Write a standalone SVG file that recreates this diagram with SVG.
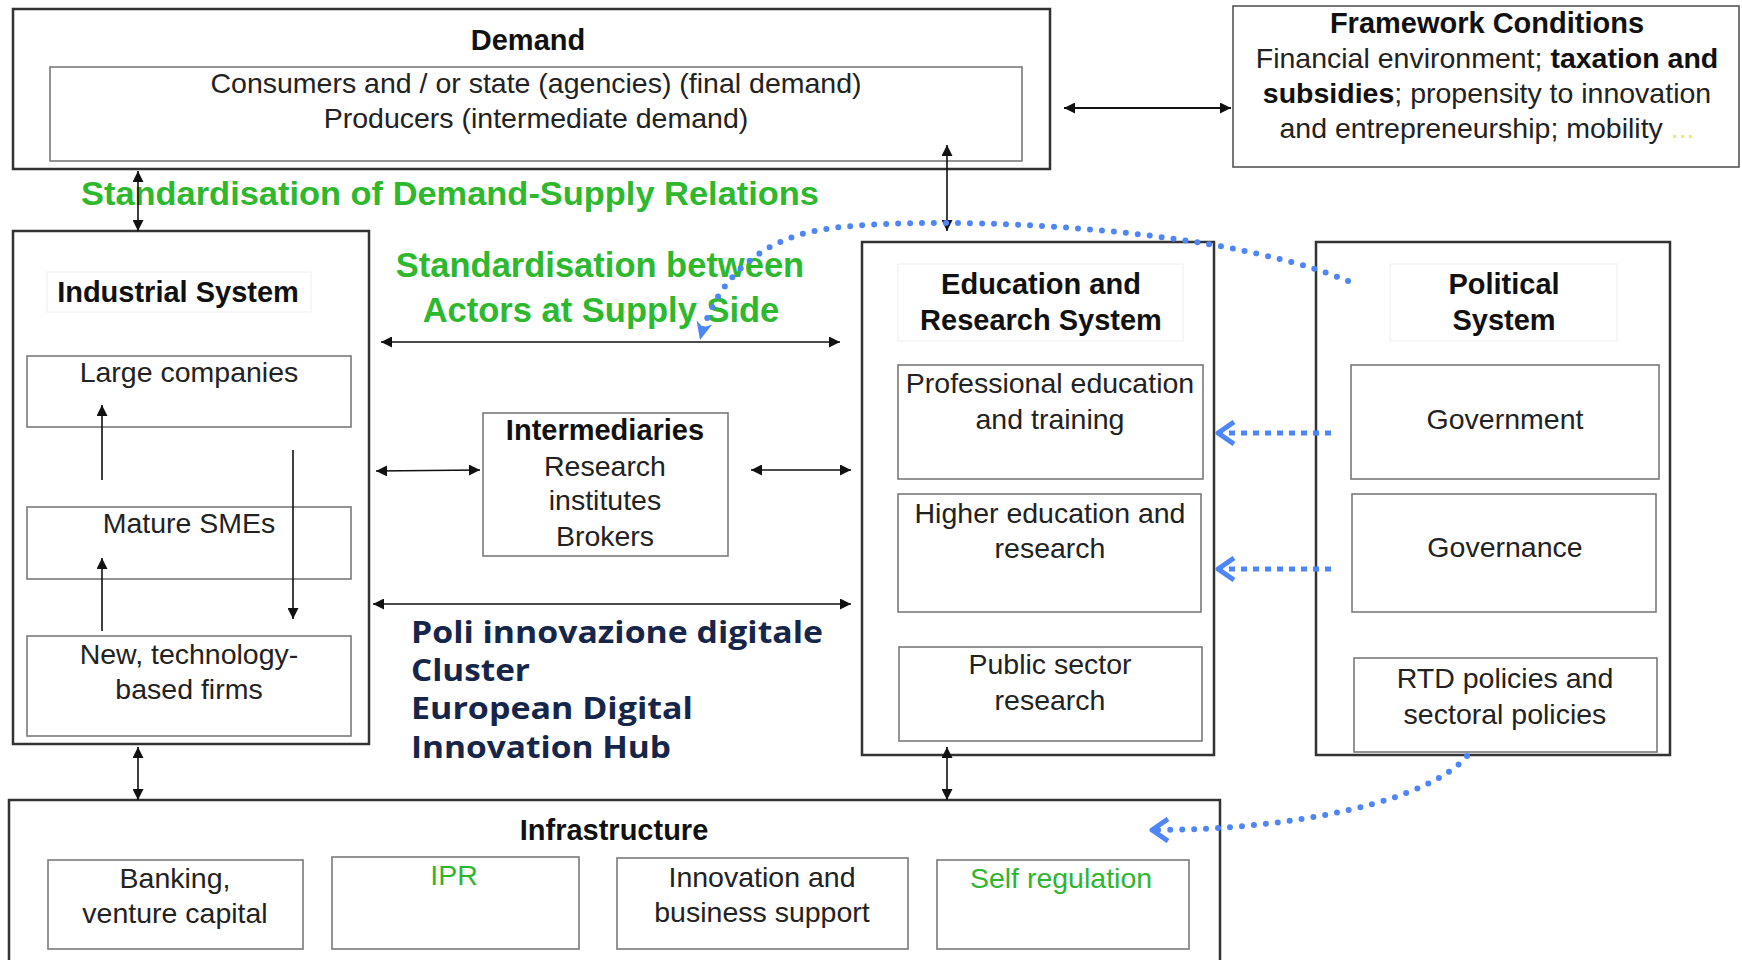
<svg xmlns="http://www.w3.org/2000/svg" width="1742" height="960" viewBox="0 0 1742 960">
<style>
.outer{fill:#fff;stroke:#333;stroke-width:2.5}
.inner{fill:#fff;stroke:#7a7a7a;stroke-width:1.6}
.lblbg{fill:#fff;stroke:#eeeeee;stroke-width:1}
.t{font-family:"Liberation Sans",Arial,sans-serif;font-size:28.5px;fill:#222;text-anchor:middle}
.b{font-weight:bold;fill:#111;font-size:29px}
.green{fill:#2fb52f}
.std{font-family:"Liberation Sans",Arial,sans-serif;font-size:34.5px;font-weight:bold;fill:#2db82d}
.poli{font-family:"Open Sans","Noto Sans",sans-serif;font-size:31px;font-weight:bold;fill:#16264a}
.con{stroke:#111;stroke-width:1.6;fill:none}
.blue{stroke:#4f86f7;stroke-width:5;fill:none}
.dots{stroke-dasharray:0 12;stroke-linecap:round;stroke-width:6}
.sq{stroke-dasharray:6 6}
</style>
<defs>
<marker id="ah" viewBox="0 0 10 10" refX="10" refY="5" markerWidth="12" markerHeight="11" orient="auto-start-reverse" markerUnits="userSpaceOnUse"><path d="M0,0 L10,5 L0,10 z" fill="#111"/></marker>
<marker id="bc" viewBox="0 0 22 26" refX="19" refY="13" markerWidth="22" markerHeight="26" orient="auto" markerUnits="userSpaceOnUse"><path d="M3,2 L19,13 L3,24" fill="none" stroke="#4f86f7" stroke-width="5" stroke-linejoin="round"/></marker>
<marker id="bt" viewBox="0 0 20 20" refX="18" refY="10" markerWidth="20" markerHeight="20" orient="auto" markerUnits="userSpaceOnUse"><path d="M0,2 L18,10 L0,18 L5,10 z" fill="#4f86f7"/></marker>
</defs>
<rect width="1742" height="960" fill="#fff"/>

<g id="demand">
<rect class="outer" x="13" y="9" width="1037" height="160"/>
<rect class="inner" x="50" y="67" width="972" height="94"/>
<text class="t b" x="528" y="50">Demand</text>
<text class="t" x="536" y="93">Consumers and / or state (agencies) (final demand)</text>
<text class="t" x="536" y="128">Producers (intermediate demand)</text>
</g>

<g id="framework">
<rect class="inner" x="1233" y="6" width="506" height="161" style="stroke:#555"/>
<text class="t b" x="1487" y="33">Framework Conditions</text>
<text class="t" x="1487" y="68">Financial environment; <tspan font-weight="bold" fill="#111">taxation and</tspan></text>
<text class="t" x="1487" y="103"><tspan font-weight="bold" fill="#111">subsidies</tspan>; propensity to innovation</text>
<text class="t" x="1487" y="138">and entrepreneurship; mobility <tspan fill="#e8e870">...</tspan></text>
</g>

<g id="label-demand-supply">
<text class="std" x="81" y="205" textLength="738" lengthAdjust="spacingAndGlyphs" style="font-size:33px">Standardisation of Demand-Supply Relations</text>
</g>

<g id="industrial">
<rect class="outer" x="13" y="231" width="356" height="513"/>
<rect class="lblbg" x="47" y="272" width="264" height="40"/>
<text class="t b" x="178" y="302">Industrial System</text>
<rect class="inner" x="27" y="356" width="324" height="71"/>
<text class="t" x="189" y="382">Large companies</text>
<rect class="inner" x="27" y="507" width="324" height="72"/>
<text class="t" x="189" y="533">Mature SMEs</text>
<rect class="inner" x="27" y="636" width="324" height="100"/>
<text class="t" x="189" y="664">New, technology-</text>
<text class="t" x="189" y="699">based firms</text>
</g>

<g id="intermediaries">
<rect class="inner" x="483" y="413" width="245" height="143"/>
<text class="t b" x="605" y="440">Intermediaries</text>
<text class="t" x="605" y="476">Research</text>
<text class="t" x="605" y="510">institutes</text>
<text class="t" x="605" y="546">Brokers</text>
</g>

<g id="label-supply-side">
<text class="std" x="600" y="277" text-anchor="middle">Standardisation  between</text>
<text class="std" x="601" y="322" text-anchor="middle">Actors at Supply Side</text>
</g>

<g id="poli">
<text class="poli" x="411" y="643" textLength="412" lengthAdjust="spacingAndGlyphs">Poli innovazione digitale</text>
<text class="poli" x="411" y="681" textLength="119" lengthAdjust="spacingAndGlyphs">Cluster</text>
<text class="poli" x="411" y="719" textLength="282" lengthAdjust="spacingAndGlyphs">European Digital</text>
<text class="poli" x="411" y="758" textLength="260" lengthAdjust="spacingAndGlyphs">Innovation Hub</text>
</g>

<g id="education">
<rect class="outer" x="862" y="242" width="352" height="513"/>
<rect class="lblbg" x="898" y="264" width="285" height="77"/>
<text class="t b" x="1041" y="294">Education and</text>
<text class="t b" x="1041" y="330">Research System</text>
<rect class="inner" x="898" y="365" width="305" height="114"/>
<text class="t" x="1050" y="393">Professional education</text>
<text class="t" x="1050" y="429">and training</text>
<rect class="inner" x="898" y="494" width="303" height="118"/>
<text class="t" x="1050" y="523">Higher education and</text>
<text class="t" x="1050" y="558">research</text>
<rect class="inner" x="899" y="647" width="303" height="94"/>
<text class="t" x="1050" y="674">Public sector</text>
<text class="t" x="1050" y="710">research</text>
</g>

<g id="political">
<rect class="outer" x="1316" y="242" width="354" height="513"/>
<rect class="lblbg" x="1390" y="264" width="227" height="77"/>
<text class="t b" x="1504" y="294">Political</text>
<text class="t b" x="1504" y="330">System</text>
<rect class="inner" x="1351" y="365" width="308" height="114"/>
<text class="t" x="1505" y="429">Government</text>
<rect class="inner" x="1352" y="494" width="304" height="118"/>
<text class="t" x="1505" y="557">Governance</text>
<rect class="inner" x="1354" y="658" width="303" height="94"/>
<text class="t" x="1505" y="688">RTD policies and</text>
<text class="t" x="1505" y="724">sectoral policies</text>
</g>

<g id="infrastructure">
<rect class="outer" x="9" y="800" width="1211" height="175"/>
<text class="t b" x="614" y="840">Infrastructure</text>
<rect class="inner" x="48" y="860" width="255" height="89"/>
<text class="t" x="175" y="888">Banking,</text>
<text class="t" x="175" y="923">venture capital</text>
<rect class="inner" x="332" y="857" width="247" height="92"/>
<text class="t green" x="454" y="885">IPR</text>
<rect class="inner" x="617" y="858" width="291" height="91"/>
<text class="t" x="762" y="887">Innovation and</text>
<text class="t" x="762" y="922">business support</text>
<rect class="inner" x="937" y="860" width="252" height="89"/>
<text class="t green" x="1061" y="888">Self regulation</text>
</g>

<g id="connectors">
<line class="con" x1="1064" y1="108" x2="1231" y2="108" marker-start="url(#ah)" marker-end="url(#ah)" style="stroke-width:2.2"/>
<line class="con" x1="138" y1="171" x2="138" y2="231" marker-start="url(#ah)" marker-end="url(#ah)"/>
<line class="con" x1="947" y1="145" x2="947" y2="231" marker-start="url(#ah)" marker-end="url(#ah)"/>
<line class="con" x1="102" y1="480" x2="102" y2="405" marker-end="url(#ah)"/>
<line class="con" x1="102" y1="631" x2="102" y2="558" marker-end="url(#ah)"/>
<line class="con" x1="293" y1="450" x2="293" y2="619" marker-end="url(#ah)"/>
<line class="con" x1="381" y1="342" x2="840" y2="342" marker-start="url(#ah)" marker-end="url(#ah)"/>
<line class="con" x1="376" y1="471" x2="480" y2="470" marker-start="url(#ah)" marker-end="url(#ah)"/>
<line class="con" x1="751" y1="470" x2="851" y2="470" marker-start="url(#ah)" marker-end="url(#ah)"/>
<line class="con" x1="373" y1="604" x2="851" y2="604" marker-start="url(#ah)" marker-end="url(#ah)"/>
<line class="con" x1="138" y1="747" x2="138" y2="800" marker-start="url(#ah)" marker-end="url(#ah)"/>
<line class="con" x1="947" y1="747" x2="947" y2="800" marker-start="url(#ah)" marker-end="url(#ah)"/>
<path class="blue dots" d="M1348,281 C1200,220 900,215 820,230 C760,240 715,280 700,340" marker-end="url(#bt)"/>
<line class="blue sq" x1="1331" y1="433" x2="1218" y2="433" marker-end="url(#bc)"/>
<line class="blue sq" x1="1331" y1="569" x2="1218" y2="569" marker-end="url(#bc)"/>
<path class="blue dots" d="M1467,756 C1430,800 1300,830 1152,830" marker-end="url(#bc)"/>
</g>
</svg>
